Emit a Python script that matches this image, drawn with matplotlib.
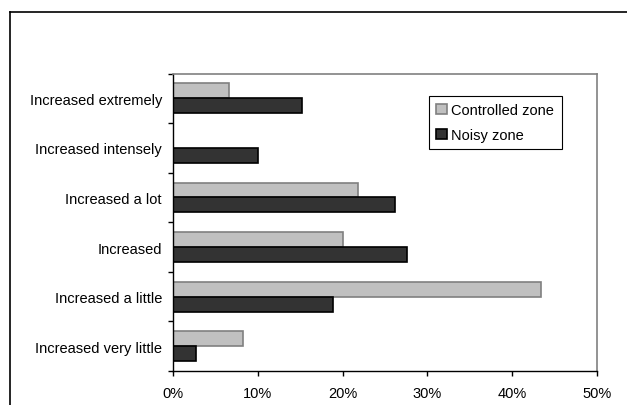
import numpy as np
import matplotlib
matplotlib.use("Agg")
import matplotlib.pyplot as plt
from matplotlib.lines import Line2D
from matplotlib.ticker import FuncFormatter

plt.rcParams['font.family'] = ['Liberation Sans', 'DejaVu Sans']

# response categories, bottom to top
categories = ['Increased very little', 'Increased a little', 'Increased',
              'Increased a lot', 'Increased intensely', 'Increased extremely']
controlled = [8.3, 43.4, 20.1, 21.8, 0.0, 6.6]
noisy = [2.7, 18.9, 27.6, 26.2, 10.0, 15.2]
series_names = ['Controlled zone', 'Noisy zone']

fig = plt.figure(figsize=(6.27, 4.06), dpi=100)
ax = fig.add_axes([0.276, 0.0837, 0.676, 0.7328])

y = np.arange(len(categories))
h = 0.3
ax.barh(y + h / 2, controlled, height=h, color='#c0c0c0', edgecolor='#808080',
        linewidth=1.2, label=series_names[0])
ax.barh(y - h / 2, noisy, height=h, color='#333333', edgecolor='black',
        linewidth=1.2, label=series_names[1])

fs = 10.5
ax.set_xlim(0, 50)
ax.set_ylim(-0.5, len(categories) - 0.5)
ax.set_xticks(np.arange(0, 51, 10))
ax.xaxis.set_major_formatter(FuncFormatter(lambda v, p: f'{v:.0f}%'))
ax.set_yticks(y)
ax.set_yticklabels(categories)
ax.set_yticks(np.arange(-0.5, len(categories), 1), minor=True)
ax.tick_params(axis='y', which='major', length=0, pad=8, labelsize=fs)
ax.tick_params(axis='y', which='minor', length=3.5, width=1, direction='out')
ax.tick_params(axis='x', length=3.5, width=1, pad=7, labelsize=fs)

for side in ['top', 'right']:
    ax.spines[side].set_color('#808080')
    ax.spines[side].set_linewidth(1.2)
for side in ['left', 'bottom']:
    ax.spines[side].set_color('black')
    ax.spines[side].set_linewidth(1)

ax.legend(loc='upper left', bbox_to_anchor=(0.604, 0.925), borderaxespad=0,
          fontsize=fs, fancybox=False, edgecolor='black', framealpha=1,
          handlelength=0.73, handleheight=0.73, handletextpad=0.3,
          labelspacing=0.75, borderpad=0.5)
ax.get_legend().get_frame().set_linewidth(0.8)

# outer chart border
fig.add_artist(Line2D([10 / 627, 10 / 627], [0, 1 - 13 / 406], color='black', lw=1.2))
fig.add_artist(Line2D([10 / 627, 1], [1 - 13 / 406, 1 - 13 / 406], color='black', lw=1.2))

fig.savefig('out.png', dpi=100)
